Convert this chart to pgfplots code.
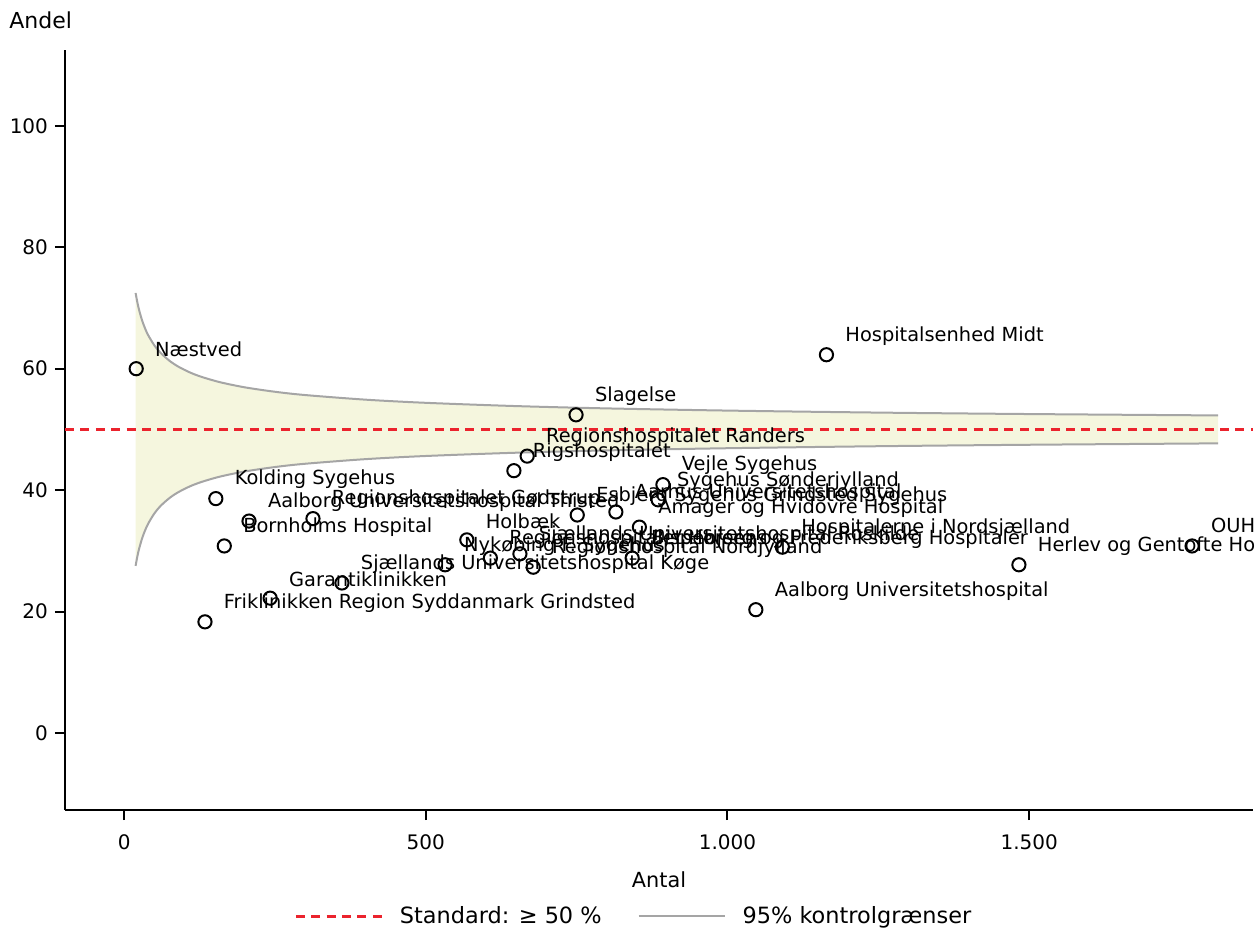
\documentclass[border=0pt]{standalone}
\usepackage{fontspec}
\setmainfont{DejaVu Sans}
\usepackage{pgfplots}
\pgfplotsset{compat=1.18}
\usepackage{pgfplotstable}

\definecolor{band}{RGB}{245,246,222}
\definecolor{limgray}{RGB}{165,165,165}
\definecolor{stdred}{RGB}{235,35,45}

\pgfplotstableread[col sep=comma]{
x,y,label
20,60.0,Næstved
1164,62.3,Hospitalsenhed Midt
749,52.4,Slagelse
668,45.6,Regionshospitalet Randers
646,43.2,Rigshospitalet
152,38.6,Kolding Sygehus
207,34.9,Aalborg Universitetshospital Thisted
313,35.3,Regionshospitalet Gødstrup
166,30.8,Bornholms Hospital
134,18.3,Friklinikken Region Syddanmark Grindsted
242,22.2,Garantiklinikken
361,24.7,Sjællands Universitetshospital Køge
532,27.7,Nykøbing F. Sygehus
568,31.8,Holbæk
893,40.9,Vejle Sygehus
885,38.4,Sygehus Sønderjylland
815,36.4,Aarhus Universitetshospital
751,35.9,Esbjerg Sygehus Grindsted Sygehus
854,33.9,Amager og Hvidovre Hospital
1091,30.6,Hospitalerne i Nordsjælland
1047,20.3,Aalborg Universitetshospital
1483,27.7,Herlev og Gentofte Hospital
1770,30.8,OUH Odense Universitetshospital
607,28.8,Regionshospitalet Horsens
656,29.5,Sjællands Universitetshospital Roskilde
678,27.3,Regionshospital Nordjylland
842,28.8,Bispebjerg og Frederiksberg Hospitaler
}\hosp

\begin{document}
\begin{tikzpicture}
\begin{axis}[
  scale only axis, width=594pt, height=380pt,
  xmin=-98, xmax=1871, ymin=-12.7, ymax=112.5,
  axis x line*=bottom, axis y line*=left,
  axis line style={line width=1pt, -},
  tick style={line width=1pt, black},
  major tick length=5pt, tick align=outside,
  xtick={0,500,1000,1500}, xticklabels={0,500,1.000,1.500},
  ytick={0,20,40,60,80,100},
  /pgf/number format/assume math mode=true,
  tick label style={font=\fontsize{10}{12}\selectfont},
  xticklabel style={yshift=-4pt},
  xlabel={Antal}, ylabel={Andel},
  every axis x label/.style={at={(rel axis cs:0.5,0)}, anchor=center, yshift=-35pt, font=\fontsize{10.4}{12}\selectfont},
  every axis y label/.style={at={(rel axis cs:0,1)}, anchor=south east, xshift=7pt, yshift=7pt, font=\fontsize{11}{13}\selectfont},
  legend style={at={(0.5,0)}, anchor=north, yshift=-44pt, xshift=-12pt, draw=none, fill=none,
    font=\fontsize{11.2}{13}\selectfont, legend columns=2,
    /tikz/every odd column/.append style={column sep=6.5pt},
    /tikz/every even column/.append style={column sep=16pt}},
  legend cell align=left,
  legend image code/.code={\draw[#1] (0pt,0pt) -- (43pt,0pt);},
  clip=true,
]
% confidence band fill
\addplot[fill=band, draw=none, forget plot] coordinates {
(19,72.48) (22,70.89) (25,69.60) (30,67.89) (35,66.57) (40,65.50) (50,63.86) (60,62.65) (75,61.32) (90,60.33) (110,59.34) (130,58.60) (160,57.75) (200,56.93) (250,56.20) (300,55.66) (400,54.90) (500,54.38) (650,53.84) (800,53.46) (1000,53.10) (1250,52.77) (1500,52.53) (1813,52.30)
(1813,47.70) (1500,47.47) (1250,47.23) (1000,46.90) (800,46.54) (650,46.16) (500,45.62) (400,45.10) (300,44.34) (250,43.80) (200,43.07) (160,42.25) (130,41.40) (110,40.66) (90,39.67) (75,38.68) (60,37.35) (50,36.14) (40,34.50) (35,33.43) (30,32.11) (25,30.40) (22,29.11) (19,27.52)
} --cycle;
% upper limit
\addplot[limgray, line width=1pt, smooth, forget plot] coordinates {
(19,72.48) (22,70.89) (25,69.60) (30,67.89) (35,66.57) (40,65.50) (50,63.86) (60,62.65) (75,61.32) (90,60.33) (110,59.34) (130,58.60) (160,57.75) (200,56.93) (250,56.20) (300,55.66) (400,54.90) (500,54.38) (650,53.84) (800,53.46) (1000,53.10) (1250,52.77) (1500,52.53) (1813,52.30)
};
% lower limit
\addplot[limgray, line width=1pt, smooth, forget plot] coordinates {
(19,27.52) (22,29.11) (25,30.40) (30,32.11) (35,33.43) (40,34.50) (50,36.14) (60,37.35) (75,38.68) (90,39.67) (110,40.66) (130,41.40) (160,42.25) (200,43.07) (250,43.80) (300,44.34) (400,45.10) (500,45.62) (650,46.16) (800,46.54) (1000,46.90) (1250,47.23) (1500,47.47) (1813,47.70)
};
% standard line
\addplot[stdred, line width=1.1pt, dash pattern=on 4.5pt off 3.2pt, forget plot] coordinates {(-98,50) (1871,50)};
% hospitals
\addplot[only marks, mark=o, mark size=3.3pt, line width=1pt, black,
  point meta=explicit symbolic, nodes near coords,
  every node near coord/.append style={anchor=west, inner sep=0pt, xshift=9pt, yshift=9.5pt,
    font=\fontsize{9.7}{11}\selectfont, text=black},
  forget plot] table[x=x, y=y, meta=label] {\hosp};
\addlegendimage{stdred, line width=1.1pt, dash pattern=on 4.5pt off 3.2pt}
\addlegendentry{Standard: ≥ 50 \%}
\addlegendimage{limgray, line width=1pt}
\addlegendentry{95\% kontrolgrænser}
\end{axis}
\pgfresetboundingbox
\path[use as bounding box] ([xshift=-32.5pt,yshift=-59pt]current axis.south west) rectangle ([xshift=1pt,yshift=25pt]current axis.north east);
\end{tikzpicture}
\end{document}
